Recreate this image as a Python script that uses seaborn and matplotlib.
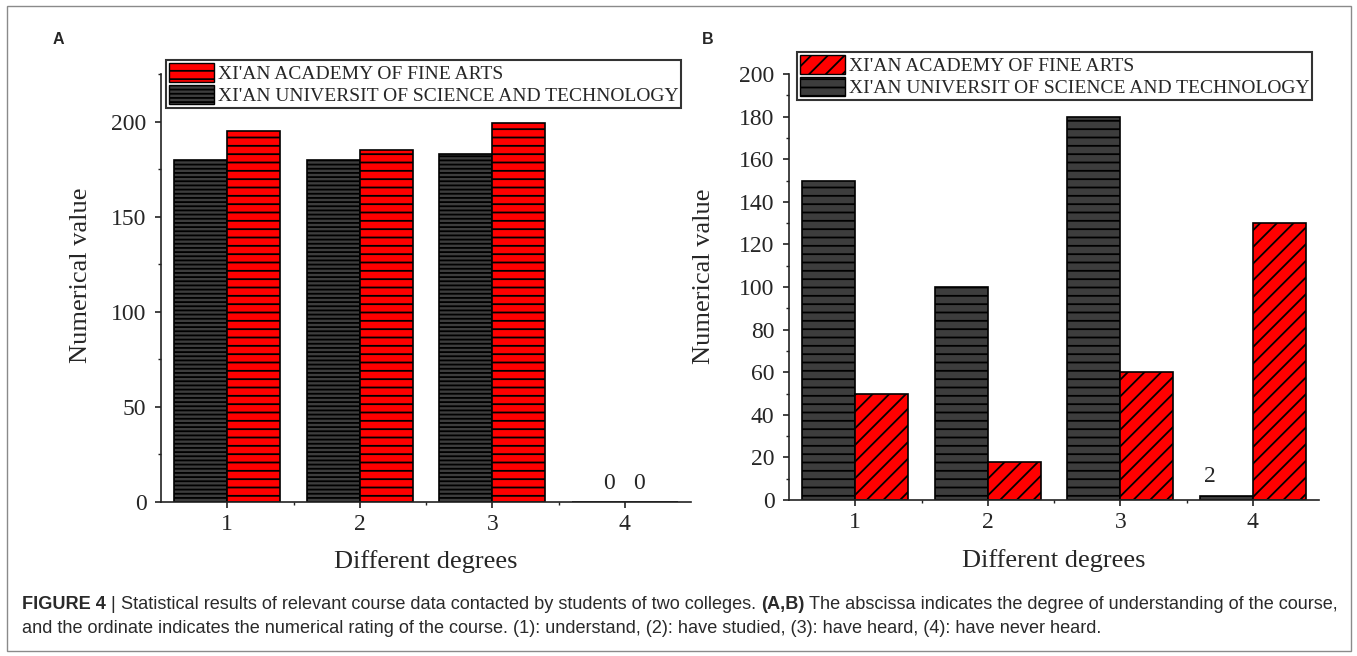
import matplotlib
matplotlib.use("Agg")
import matplotlib.pyplot as plt
import numpy as np
import pandas as pd
import seaborn as sns
from matplotlib.patches import Patch, Rectangle
from matplotlib.ticker import MultipleLocator, FixedLocator
from matplotlib.font_manager import FontProperties

# ---------------- data ----------------
degrees = ["1", "2", "3", "4"]
fine_arts = "XI'AN ACADEMY OF FINE ARTS"
sci_tech = "XI'AN UNIVERSIT OF SCIENCE AND TECHNOLOGY"
a_fine_arts = [195, 185, 199, 0]
a_sci_tech = [180, 180, 183, 0]
b_fine_arts = [50, 18, 60, 130]
b_sci_tech = [150, 100, 180, 2]

caption_line1 = [("FIGURE 4", True), ("|", False),
                 ("Statistical results of relevant course data contacted by students of two colleges.", False),
                 ("(A,B)", True),
                 ("The abscissa indicates the degree of understanding of the course,", False)]
caption_line2 = [("and the ordinate indicates the numerical rating of the course. (1): understand, "
                  "(2): have studied, (3): have heard, (4): have never heard.", False)]

# ---------------- style ----------------
sns.set_style("ticks")
plt.rcParams["font.family"] = ["Liberation Serif", "DejaVu Serif"]
plt.rcParams["hatch.linewidth"] = 1.3
plt.rcParams["axes.linewidth"] = 1.2

DARK = "#3d3d3d"
RED = "#ff0000"
W, H = 1357, 656

fig = plt.figure(figsize=(W / 100, H / 100), dpi=100)
fig.patch.set_facecolor("white")

# outer frame
fig.add_artist(Rectangle((7 / W, 1 - 651 / H), (1351 - 7) / W, (651 - 6) / H,
                         transform=fig.transFigure, fill=False, edgecolor="#8a8a8a", lw=1.0))


def make_df(fa, st):
    return pd.DataFrame({
        "degree": degrees * 2,
        "school": [sci_tech] * 4 + [fine_arts] * 4,
        "value": list(st) + list(fa),
    })


def panel(rect, fa, st, dark_hatch, red_hatch, ylim, major, minor, legend_xy, tick_fs,
          label_coords, note_offsets):
    ax = fig.add_axes(rect)
    df = make_df(fa, st)
    sns.barplot(data=df, x="degree", y="value", hue="school", order=degrees,
                hue_order=[sci_tech, fine_arts], palette={sci_tech: DARK, fine_arts: RED},
                saturation=1, edgecolor="black", linewidth=1.2, width=0.8,
                legend=False, ax=ax, errorbar=None)
    hatches = [dark_hatch, red_hatch]
    for cont, h in zip(ax.containers, hatches):
        for bar in cont:
            bar.set_hatch(h)
    ax.set_xlim(-0.5, 3.5)
    ax.set_ylim(*ylim)
    ax.yaxis.set_major_locator(MultipleLocator(major))
    ax.yaxis.set_minor_locator(MultipleLocator(minor))
    ax.xaxis.set_minor_locator(FixedLocator([0.5, 1.5, 2.5]))
    ax.tick_params(axis="both", which="major", direction="out", length=4, width=1.2,
                   labelsize=tick_fs, color="#222")
    ax.tick_params(axis="both", which="minor", direction="out", length=2.5, width=1.0, color="#222")
    ax.tick_params(axis="x", which="major", pad=4.5)
    ax.tick_params(axis="y", which="major", pad=6.5)
    for s in ["top", "right"]:
        ax.spines[s].set_visible(False)
    for s in ["left", "bottom"]:
        ax.spines[s].set_color("#222")
    ax.set_xlabel("Different degrees", fontsize=19)
    ax.set_ylabel("Numerical value", fontsize=19)
    ax.xaxis.set_label_coords(0.5, label_coords[0])
    ax.yaxis.set_label_coords(label_coords[1], label_coords[2])

    # value notes on near-zero bars
    for cont, vals, off in zip(ax.containers, [st, fa], note_offsets):
        for bar, v in zip(cont, vals):
            if v < 5:
                ax.annotate(f"{v}", (bar.get_x() + bar.get_width() / 2, bar.get_height()),
                            xytext=(off[0], off[1]), textcoords="offset points",
                            ha="center", va="center", fontsize=tick_fs)

    handles = [Patch(facecolor=RED, edgecolor="black", hatch=red_hatch, label=fine_arts),
               Patch(facecolor=DARK, edgecolor="black", hatch=dark_hatch, label=sci_tech)]
    leg = ax.legend(handles=handles, loc="upper left", bbox_to_anchor=legend_xy,
                    bbox_transform=fig.transFigure, borderaxespad=0, borderpad=0.15,
                    handlelength=2.3, handleheight=1.1, handletextpad=0.2, labelspacing=0.12,
                    frameon=True, fancybox=False, framealpha=1, edgecolor="#333",
                    prop=FontProperties(family="Liberation Serif", size=14))
    leg.get_frame().set_linewidth(1.5)
    return ax


axA = panel([161 / W, 1 - 502 / H, 530 / W, 428 / H], a_fine_arts, a_sci_tech, "----", "--",
            (0, 225), 50, 25, (166 / W, 1 - 60 / H), 17,
            (-0.112, -0.130, 0.529), [(8, 13), (-9, 13)])
axB = panel([789 / W, 1 - 500 / H, 530 / W, 426 / H], b_fine_arts, b_sci_tech, "--", "//",
            (0, 200), 20, 10, (797 / W, 1 - 52 / H), 17,
            (-0.115, -0.1396, 0.525), [(-12, 14), (0, 14)])

# panel letters
fig.text(58 / W, 1 - 40 / H, "A", family="Liberation Sans", weight="bold", fontsize=11.5,
         ha="center", va="center")
fig.text(708 / W, 1 - 39 / H, "B", family="Liberation Sans", weight="bold", fontsize=11.5,
         ha="center", va="center")

# ---------------- caption ----------------
renderer = fig.canvas.get_renderer()
CAP_FAM = "Liberation Sans"
CAP_COLOR = "#2a2a2a"


def measure(txt, bold, fs):
    t = fig.text(0, 0, txt, family=CAP_FAM, weight="bold" if bold else "normal", fontsize=fs)
    w = t.get_window_extent(renderer).width
    t.remove()
    return w


def space_w(fs):
    return measure("x x", False, fs) - measure("xx", False, fs)


base = 10.0
total = sum(measure(t, b, base) for t, b in caption_line1) + space_w(base) * (len(caption_line1) - 1)
cap_fs = base * (1345 - 22) / total


def draw_line(pieces, x0, y_base):
    x = x0
    sp = space_w(cap_fs)
    for txt, bold in pieces:
        fig.text(x / W, 1 - y_base / H, txt, family=CAP_FAM, weight="bold" if bold else "normal",
                 fontsize=cap_fs, ha="left", va="baseline", color=CAP_COLOR)
        x += measure(txt, bold, cap_fs) + sp


draw_line(caption_line1, 22, 609)
draw_line(caption_line2, 22, 633)

fig.savefig("out.png", dpi=100, facecolor="white")
